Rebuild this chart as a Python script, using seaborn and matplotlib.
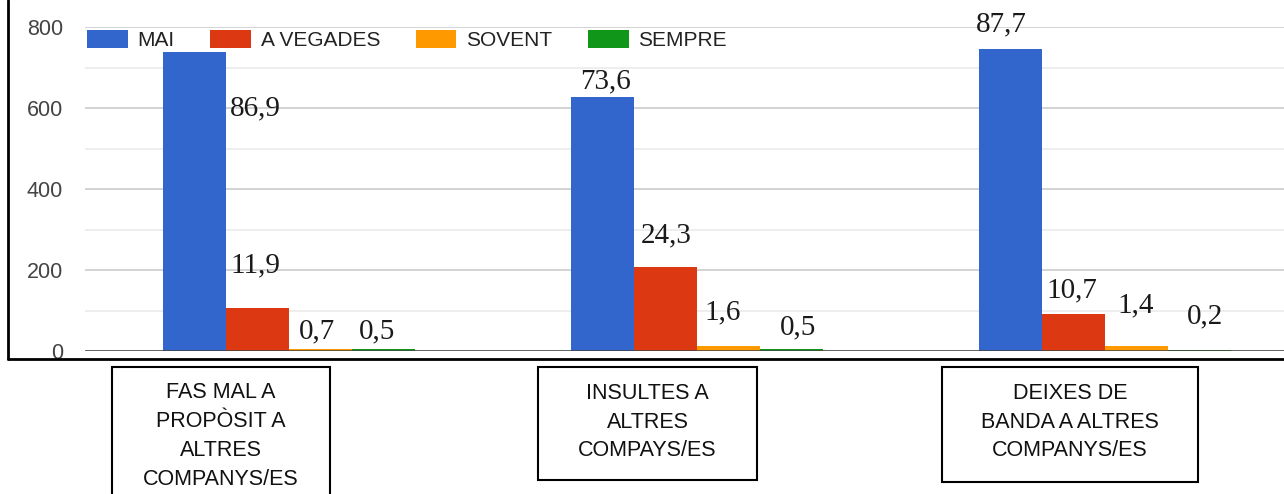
import matplotlib
matplotlib.use("Agg")
import matplotlib.pyplot as plt
import seaborn as sns
import pandas as pd
from matplotlib.patches import Patch, Rectangle
from matplotlib.lines import Line2D
from matplotlib.ticker import MultipleLocator

# ---------------- data ----------------
items = ["FAS MAL A\nPROPÒSIT A\nALTRES\nCOMPANYS/ES",
         "INSULTES A\nALTRES\nCOMPAYS/ES",
         "DEIXES DE\nBANDA A ALTRES\nCOMPANYS/ES"]
responses = ["MAI", "A VEGADES", "SOVENT", "SEMPRE"]
mai = [738, 626, 746]
a_vegades = [105, 207, 91]
sovent = [6, 13, 12]
sempre = [4, 4, 2]
pct_labels = [["86,9", "11,9", "0,7", "0,5"],
              ["73,6", "24,3", "1,6", "0,5"],
              ["87,7", "10,7", "1,4", "0,2"]]
y_ticks = [0, 200, 400, 600, 800]

colors = ["#3366cc", "#dc3912", "#ff9900", "#109618"]

# ---------------- layout (text positions, not data) ----------------
lab_dx = [[-0.083, -0.083, 0.069, 0.216],
          [-0.225, -0.076, 0.064, 0.248],
          [-0.255, -0.081, 0.076, 0.245]]
lab_y = [[583, 193, 32, 32],
         [649, 267, 77, 40],
         [788, 133, 96, 69]]

W, H = 1284, 494
def fx(px):
    return px / W
def fy(py):
    return 1 - py / H

rows = []
for i, it in enumerate(items):
    for r, vals in zip(responses, [mai, a_vegades, sovent, sempre]):
        rows.append({"item": i, "resp": r, "count": vals[i]})
df = pd.DataFrame(rows)

sns.set_style("white")
plt.rcParams["font.family"] = ["Liberation Sans", "DejaVu Sans"]

fig = plt.figure(figsize=(W / 100, H / 100), dpi=100)
ax = fig.add_axes([fx(85), fy(351), fx(1224), (351 - 27) / H])

sns.barplot(data=df, x="item", y="count", hue="resp", hue_order=responses,
            palette=colors, width=0.62, ax=ax, legend=False,
            saturation=1, linewidth=0, errorbar=None)

ax.set_xlim(-0.5, 2.5)
ax.set_ylim(0, 800)
ax.set_yticks(y_ticks)
ax.set_yticklabels([str(t) for t in y_ticks], fontsize=15.5, color="#444444")
ax.yaxis.set_minor_locator(MultipleLocator(100))
ax.tick_params(axis="y", which="both", length=0, pad=15.8)
ax.set_xticks([])
ax.set_xlabel("")
ax.set_ylabel("")
ax.grid(axis="y", which="major", color="#cccccc", linewidth=1.2)
ax.grid(axis="y", which="minor", color="#ebebeb", linewidth=1.2)
ax.set_axisbelow(True)
for s in ax.spines.values():
    s.set_visible(False)
ax.axhline(0, color="#444444", linewidth=1.8, zorder=3)

# percentage labels
for i in range(len(items)):
    for j in range(len(responses)):
        ax.text(i + lab_dx[i][j], lab_y[i][j], pct_labels[i][j],
                ha="center", va="baseline", fontsize=21, color="#1a1a1a",
                family=["Liberation Serif", "DejaVu Serif"], clip_on=False, zorder=5)

# legend
handles = [Patch(facecolor=c, edgecolor="none") for c in colors]
leg = ax.legend(handles, responses, ncol=4, loc="center left",
                bbox_to_anchor=(fx(87), fy(40)), bbox_transform=fig.transFigure,
                frameon=False, fontsize=15, handlelength=1.95, handleheight=0.95,
                handletextpad=0.48, columnspacing=1.7, borderpad=0, borderaxespad=0)
for t in leg.get_texts():
    t.set_color("#222222")

# outer frame lines
fig.add_artist(Line2D([fx(8), fx(8)], [fy(359), fy(0)], color="black", linewidth=2))
fig.add_artist(Line2D([fx(8), fx(W)], [fy(359), fy(359)], color="black", linewidth=2))

# category boxes
boxes = [(112, 367, 330, 500, 436), (538, 367, 757, 480, 422), (942, 367, 1198, 482, 422)]
for (x0, y0, x1, y1, yc), label in zip(boxes, items):
    fig.add_artist(Rectangle((fx(x0), fy(y1)), fx(x1 - x0), (y1 - y0) / H,
                             transform=fig.transFigure, fill=False,
                             edgecolor="black", linewidth=1.5))
    fig.text(fx((x0 + x1) / 2), fy(yc), label, ha="center", va="center",
             fontsize=15.5, color="#111111", linespacing=1.48, multialignment="center")

fig.savefig("out.png", dpi=100)
